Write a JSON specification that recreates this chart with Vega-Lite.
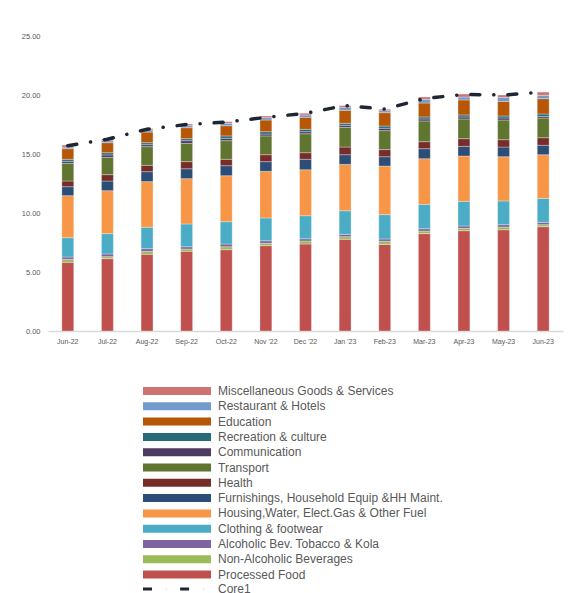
{
  "$schema": "https://vega.github.io/schema/vega-lite/v6.json",
  "width": 515,
  "height": 295,
  "autosize": {"type": "none"},
  "padding": {"left": 48, "top": 36, "right": 13, "bottom": 262},
  "config": {"font": "Liberation Sans", "view": {"stroke": null}},
  "datasets": {
    "bars": [
      {"month": "Jun-22", "category": "Processed Food", "value": 5.82},
      {"month": "Jun-22", "category": "Non-Alcoholic Beverages", "value": 0.25},
      {"month": "Jun-22", "category": "Alcoholic Bev. Tobacco & Kola", "value": 0.20},
      {"month": "Jun-22", "category": "Clothing & footwear", "value": 1.64},
      {"month": "Jun-22", "category": "Housing,Water, Elect.Gas & Other Fuel", "value": 3.56},
      {"month": "Jun-22", "category": "Furnishings, Household Equip &HH Maint.", "value": 0.76},
      {"month": "Jun-22", "category": "Health", "value": 0.48},
      {"month": "Jun-22", "category": "Transport", "value": 1.50},
      {"month": "Jun-22", "category": "Communication", "value": 0.17},
      {"month": "Jun-22", "category": "Recreation & culture", "value": 0.17},
      {"month": "Jun-22", "category": "Education", "value": 0.90},
      {"month": "Jun-22", "category": "Restaurant & Hotels", "value": 0.14},
      {"month": "Jun-22", "category": "Miscellaneous Goods & Services", "value": 0.17},

      {"month": "Jul-22", "category": "Processed Food", "value": 6.13},
      {"month": "Jul-22", "category": "Non-Alcoholic Beverages", "value": 0.17},
      {"month": "Jul-22", "category": "Alcoholic Bev. Tobacco & Kola", "value": 0.23},
      {"month": "Jul-22", "category": "Clothing & footwear", "value": 1.72},
      {"month": "Jul-22", "category": "Housing,Water, Elect.Gas & Other Fuel", "value": 3.64},
      {"month": "Jul-22", "category": "Furnishings, Household Equip &HH Maint.", "value": 0.82},
      {"month": "Jul-22", "category": "Health", "value": 0.54},
      {"month": "Jul-22", "category": "Transport", "value": 1.47},
      {"month": "Jul-22", "category": "Communication", "value": 0.20},
      {"month": "Jul-22", "category": "Recreation & culture", "value": 0.19},
      {"month": "Jul-22", "category": "Education", "value": 0.85},
      {"month": "Jul-22", "category": "Restaurant & Hotels", "value": 0.17},
      {"month": "Jul-22", "category": "Miscellaneous Goods & Services", "value": 0.14},

      {"month": "Aug-22", "category": "Processed Food", "value": 6.50},
      {"month": "Aug-22", "category": "Non-Alcoholic Beverages", "value": 0.25},
      {"month": "Aug-22", "category": "Alcoholic Bev. Tobacco & Kola", "value": 0.23},
      {"month": "Aug-22", "category": "Clothing & footwear", "value": 1.81},
      {"month": "Aug-22", "category": "Housing,Water, Elect.Gas & Other Fuel", "value": 3.87},
      {"month": "Aug-22", "category": "Furnishings, Household Equip &HH Maint.", "value": 0.84},
      {"month": "Aug-22", "category": "Health", "value": 0.54},
      {"month": "Aug-22", "category": "Transport", "value": 1.58},
      {"month": "Aug-22", "category": "Communication", "value": 0.17},
      {"month": "Aug-22", "category": "Recreation & culture", "value": 0.17},
      {"month": "Aug-22", "category": "Education", "value": 0.90},
      {"month": "Aug-22", "category": "Restaurant & Hotels", "value": 0.17},
      {"month": "Aug-22", "category": "Miscellaneous Goods & Services", "value": 0.11},

      {"month": "Sep-22", "category": "Processed Food", "value": 6.75},
      {"month": "Sep-22", "category": "Non-Alcoholic Beverages", "value": 0.20},
      {"month": "Sep-22", "category": "Alcoholic Bev. Tobacco & Kola", "value": 0.19},
      {"month": "Sep-22", "category": "Clothing & footwear", "value": 1.93},
      {"month": "Sep-22", "category": "Housing,Water, Elect.Gas & Other Fuel", "value": 3.84},
      {"month": "Sep-22", "category": "Furnishings, Household Equip &HH Maint.", "value": 0.84},
      {"month": "Sep-22", "category": "Health", "value": 0.60},
      {"month": "Sep-22", "category": "Transport", "value": 1.55},
      {"month": "Sep-22", "category": "Communication", "value": 0.23},
      {"month": "Sep-22", "category": "Recreation & culture", "value": 0.17},
      {"month": "Sep-22", "category": "Education", "value": 0.93},
      {"month": "Sep-22", "category": "Restaurant & Hotels", "value": 0.17},
      {"month": "Sep-22", "category": "Miscellaneous Goods & Services", "value": 0.14},

      {"month": "Oct-22", "category": "Processed Food", "value": 6.89},
      {"month": "Oct-22", "category": "Non-Alcoholic Beverages", "value": 0.25},
      {"month": "Oct-22", "category": "Alcoholic Bev. Tobacco & Kola", "value": 0.23},
      {"month": "Oct-22", "category": "Clothing & footwear", "value": 1.89},
      {"month": "Oct-22", "category": "Housing,Water, Elect.Gas & Other Fuel", "value": 3.90},
      {"month": "Oct-22", "category": "Furnishings, Household Equip &HH Maint.", "value": 0.85},
      {"month": "Oct-22", "category": "Health", "value": 0.54},
      {"month": "Oct-22", "category": "Transport", "value": 1.58},
      {"month": "Oct-22", "category": "Communication", "value": 0.20},
      {"month": "Oct-22", "category": "Recreation & culture", "value": 0.20},
      {"month": "Oct-22", "category": "Education", "value": 0.87},
      {"month": "Oct-22", "category": "Restaurant & Hotels", "value": 0.20},
      {"month": "Oct-22", "category": "Miscellaneous Goods & Services", "value": 0.14},

      {"month": "Nov '22", "category": "Processed Food", "value": 7.23},
      {"month": "Nov '22", "category": "Non-Alcoholic Beverages", "value": 0.20},
      {"month": "Nov '22", "category": "Alcoholic Bev. Tobacco & Kola", "value": 0.22},
      {"month": "Nov '22", "category": "Clothing & footwear", "value": 1.93},
      {"month": "Nov '22", "category": "Housing,Water, Elect.Gas & Other Fuel", "value": 3.95},
      {"month": "Nov '22", "category": "Furnishings, Household Equip &HH Maint.", "value": 0.82},
      {"month": "Nov '22", "category": "Health", "value": 0.59},
      {"month": "Nov '22", "category": "Transport", "value": 1.59},
      {"month": "Nov '22", "category": "Communication", "value": 0.16},
      {"month": "Nov '22", "category": "Recreation & culture", "value": 0.20},
      {"month": "Nov '22", "category": "Education", "value": 0.99},
      {"month": "Nov '22", "category": "Restaurant & Hotels", "value": 0.20},
      {"month": "Nov '22", "category": "Miscellaneous Goods & Services", "value": 0.14},

      {"month": "Dec '22", "category": "Processed Food", "value": 7.37},
      {"month": "Dec '22", "category": "Non-Alcoholic Beverages", "value": 0.26},
      {"month": "Dec '22", "category": "Alcoholic Bev. Tobacco & Kola", "value": 0.19},
      {"month": "Dec '22", "category": "Clothing & footwear", "value": 1.95},
      {"month": "Dec '22", "category": "Housing,Water, Elect.Gas & Other Fuel", "value": 3.90},
      {"month": "Dec '22", "category": "Furnishings, Household Equip &HH Maint.", "value": 0.88},
      {"month": "Dec '22", "category": "Health", "value": 0.56},
      {"month": "Dec '22", "category": "Transport", "value": 1.61},
      {"month": "Dec '22", "category": "Communication", "value": 0.17},
      {"month": "Dec '22", "category": "Recreation & culture", "value": 0.20},
      {"month": "Dec '22", "category": "Education", "value": 1.02},
      {"month": "Dec '22", "category": "Restaurant & Hotels", "value": 0.20},
      {"month": "Dec '22", "category": "Miscellaneous Goods & Services", "value": 0.14},

      {"month": "Jan '23", "category": "Processed Food", "value": 7.77},
      {"month": "Jan '23", "category": "Non-Alcoholic Beverages", "value": 0.22},
      {"month": "Jan '23", "category": "Alcoholic Bev. Tobacco & Kola", "value": 0.20},
      {"month": "Jan '23", "category": "Clothing & footwear", "value": 2.00},
      {"month": "Jan '23", "category": "Housing,Water, Elect.Gas & Other Fuel", "value": 3.93},
      {"month": "Jan '23", "category": "Furnishings, Household Equip &HH Maint.", "value": 0.82},
      {"month": "Jan '23", "category": "Health", "value": 0.65},
      {"month": "Jan '23", "category": "Transport", "value": 1.67},
      {"month": "Jan '23", "category": "Communication", "value": 0.17},
      {"month": "Jan '23", "category": "Recreation & culture", "value": 0.17},
      {"month": "Jan '23", "category": "Education", "value": 1.10},
      {"month": "Jan '23", "category": "Restaurant & Hotels", "value": 0.26},
      {"month": "Jan '23", "category": "Miscellaneous Goods & Services", "value": 0.14},

      {"month": "Feb-23", "category": "Processed Food", "value": 7.34},
      {"month": "Feb-23", "category": "Non-Alcoholic Beverages", "value": 0.26},
      {"month": "Feb-23", "category": "Alcoholic Bev. Tobacco & Kola", "value": 0.20},
      {"month": "Feb-23", "category": "Clothing & footwear", "value": 2.06},
      {"month": "Feb-23", "category": "Housing,Water, Elect.Gas & Other Fuel", "value": 4.12},
      {"month": "Feb-23", "category": "Furnishings, Household Equip &HH Maint.", "value": 0.79},
      {"month": "Feb-23", "category": "Health", "value": 0.60},
      {"month": "Feb-23", "category": "Transport", "value": 1.61},
      {"month": "Feb-23", "category": "Communication", "value": 0.20},
      {"month": "Feb-23", "category": "Recreation & culture", "value": 0.19},
      {"month": "Feb-23", "category": "Education", "value": 1.13},
      {"month": "Feb-23", "category": "Restaurant & Hotels", "value": 0.17},
      {"month": "Feb-23", "category": "Miscellaneous Goods & Services", "value": 0.12},

      {"month": "Mar-23", "category": "Processed Food", "value": 8.25},
      {"month": "Mar-23", "category": "Non-Alcoholic Beverages", "value": 0.22},
      {"month": "Mar-23", "category": "Alcoholic Bev. Tobacco & Kola", "value": 0.20},
      {"month": "Mar-23", "category": "Clothing & footwear", "value": 2.06},
      {"month": "Mar-23", "category": "Housing,Water, Elect.Gas & Other Fuel", "value": 3.87},
      {"month": "Mar-23", "category": "Furnishings, Household Equip &HH Maint.", "value": 0.85},
      {"month": "Mar-23", "category": "Health", "value": 0.59},
      {"month": "Mar-23", "category": "Transport", "value": 1.76},
      {"month": "Mar-23", "category": "Communication", "value": 0.17},
      {"month": "Mar-23", "category": "Recreation & culture", "value": 0.17},
      {"month": "Mar-23", "category": "Education", "value": 1.18},
      {"month": "Mar-23", "category": "Restaurant & Hotels", "value": 0.31},
      {"month": "Mar-23", "category": "Miscellaneous Goods & Services", "value": 0.20},

      {"month": "Apr-23", "category": "Processed Food", "value": 8.50},
      {"month": "Apr-23", "category": "Non-Alcoholic Beverages", "value": 0.20},
      {"month": "Apr-23", "category": "Alcoholic Bev. Tobacco & Kola", "value": 0.20},
      {"month": "Apr-23", "category": "Clothing & footwear", "value": 2.09},
      {"month": "Apr-23", "category": "Housing,Water, Elect.Gas & Other Fuel", "value": 3.84},
      {"month": "Apr-23", "category": "Furnishings, Household Equip &HH Maint.", "value": 0.82},
      {"month": "Apr-23", "category": "Health", "value": 0.65},
      {"month": "Apr-23", "category": "Transport", "value": 1.67},
      {"month": "Apr-23", "category": "Communication", "value": 0.17},
      {"month": "Apr-23", "category": "Recreation & culture", "value": 0.17},
      {"month": "Apr-23", "category": "Education", "value": 1.27},
      {"month": "Apr-23", "category": "Restaurant & Hotels", "value": 0.25},
      {"month": "Apr-23", "category": "Miscellaneous Goods & Services", "value": 0.25},

      {"month": "May-23", "category": "Processed Food", "value": 8.58},
      {"month": "May-23", "category": "Non-Alcoholic Beverages", "value": 0.23},
      {"month": "May-23", "category": "Alcoholic Bev. Tobacco & Kola", "value": 0.20},
      {"month": "May-23", "category": "Clothing & footwear", "value": 2.01},
      {"month": "May-23", "category": "Housing,Water, Elect.Gas & Other Fuel", "value": 3.75},
      {"month": "May-23", "category": "Furnishings, Household Equip &HH Maint.", "value": 0.82},
      {"month": "May-23", "category": "Health", "value": 0.62},
      {"month": "May-23", "category": "Transport", "value": 1.67},
      {"month": "May-23", "category": "Communication", "value": 0.17},
      {"month": "May-23", "category": "Recreation & culture", "value": 0.17},
      {"month": "May-23", "category": "Education", "value": 1.24},
      {"month": "May-23", "category": "Restaurant & Hotels", "value": 0.34},
      {"month": "May-23", "category": "Miscellaneous Goods & Services", "value": 0.20},

      {"month": "Jun-23", "category": "Processed Food", "value": 8.84},
      {"month": "Jun-23", "category": "Non-Alcoholic Beverages", "value": 0.17},
      {"month": "Jun-23", "category": "Alcoholic Bev. Tobacco & Kola", "value": 0.20},
      {"month": "Jun-23", "category": "Clothing & footwear", "value": 2.03},
      {"month": "Jun-23", "category": "Housing,Water, Elect.Gas & Other Fuel", "value": 3.70},
      {"month": "Jun-23", "category": "Furnishings, Household Equip &HH Maint.", "value": 0.80},
      {"month": "Jun-23", "category": "Health", "value": 0.64},
      {"month": "Jun-23", "category": "Transport", "value": 1.67},
      {"month": "Jun-23", "category": "Communication", "value": 0.14},
      {"month": "Jun-23", "category": "Recreation & culture", "value": 0.20},
      {"month": "Jun-23", "category": "Education", "value": 1.30},
      {"month": "Jun-23", "category": "Restaurant & Hotels", "value": 0.28},
      {"month": "Jun-23", "category": "Miscellaneous Goods & Services", "value": 0.28}
    ],
    "core": [
      {"month": "Jun-22", "series": "Core1", "value": 15.70},
      {"month": "Jul-22", "series": "Core1", "value": 16.25},
      {"month": "Aug-22", "series": "Core1", "value": 17.10},
      {"month": "Sep-22", "series": "Core1", "value": 17.50},
      {"month": "Oct-22", "series": "Core1", "value": 17.70},
      {"month": "Nov '22", "series": "Core1", "value": 18.10},
      {"month": "Dec '22", "series": "Core1", "value": 18.45},
      {"month": "Jan '23", "series": "Core1", "value": 19.10},
      {"month": "Feb-23", "series": "Core1", "value": 18.80},
      {"month": "Mar-23", "series": "Core1", "value": 19.70},
      {"month": "Apr-23", "series": "Core1", "value": 20.05},
      {"month": "May-23", "series": "Core1", "value": 20.00},
      {"month": "Jun-23", "series": "Core1", "value": 20.25}
    ]
  },
  "encoding": {
    "x": {
      "field": "month",
      "type": "nominal",
      "sort": ["Jun-22", "Jul-22", "Aug-22", "Sep-22", "Oct-22", "Nov '22", "Dec '22", "Jan '23", "Feb-23", "Mar-23", "Apr-23", "May-23", "Jun-23"],
      "scale": {"paddingInner": 0.7, "paddingOuter": 0.35},
      "axis": {"title": null, "labelAngle": 0, "ticks": false, "domainColor": "#D9D9D9", "domainWidth": 1.5, "labelFontSize": 7, "labelColor": "#595959", "labelPadding": 6}
    },
    "y": {
      "field": "value",
      "type": "quantitative",
      "scale": {"domain": [0, 25]},
      "axis": {"title": null, "values": [0, 5, 10, 15, 20, 25], "format": ".2f", "grid": false, "domain": false, "ticks": false, "labelFontSize": 7.5, "labelColor": "#595959", "labelPadding": 8}
    }
  },
  "layer": [
    {
      "data": {"name": "bars"},
      "transform": [
        {"calculate": "indexof(['Miscellaneous Goods & Services','Restaurant & Hotels','Education','Recreation & culture','Communication','Transport','Health','Furnishings, Household Equip &HH Maint.','Housing,Water, Elect.Gas & Other Fuel','Clothing & footwear','Alcoholic Bev. Tobacco & Kola','Non-Alcoholic Beverages','Processed Food'], datum.category)", "as": "k"}
      ],
      "mark": {"type": "bar", "stroke": "#ffffff", "strokeWidth": 0.5, "strokeOpacity": 0.6},
      "encoding": {
        "y": {"field": "value", "type": "quantitative", "stack": "zero"},
        "color": {
          "field": "category",
          "type": "nominal",
          "scale": {
            "domain": ["Miscellaneous Goods & Services", "Restaurant & Hotels", "Education", "Recreation & culture", "Communication", "Transport", "Health", "Furnishings, Household Equip &HH Maint.", "Housing,Water, Elect.Gas & Other Fuel", "Clothing & footwear", "Alcoholic Bev. Tobacco & Kola", "Non-Alcoholic Beverages", "Processed Food"],
            "range": ["#CD7371", "#729ACA", "#B65708", "#276A7C", "#4D3B62", "#5F7530", "#772C2A", "#2C4D75", "#F79646", "#4BACC6", "#8064A2", "#9BBB59", "#C0504D"]
          },
          "legend": {
            "title": null,
            "orient": "none",
            "legendX": 123,
            "legendY": 349,
            "symbolType": "M-8.5,-1H8.5V1H-8.5Z",
            "symbolSize": 64,
            "symbolStrokeWidth": 0,
            "labelFontSize": 12,
            "labelColor": "#595959",
            "labelLimit": 400,
            "labelOffset": 35,
            "rowPadding": 3.3
          }
        },
        "order": {"field": "k", "type": "quantitative", "sort": "descending"}
      }
    },
    {
      "data": {"name": "core"},
      "mark": {"type": "line", "color": "#1F2633", "strokeWidth": 3.5, "strokeCap": "round"},
      "encoding": {
        "strokeDash": {
          "field": "series",
          "type": "nominal",
          "scale": {"domain": ["Core1"], "range": [[9, 14, 0.1, 14]]},
          "legend": {
            "title": null,
            "orient": "none",
            "legendX": 123,
            "legendY": 547,
            "symbolType": "M-8.5,0H8.5",
            "symbolSize": 64,
            "symbolStrokeColor": "#1F2633",
            "symbolFillColor": "transparent",
            "symbolStrokeWidth": 3,
            "labelFontSize": 12,
            "labelColor": "#595959",
            "labelOffset": 35
          }
        }
      }
    }
  ]
}
